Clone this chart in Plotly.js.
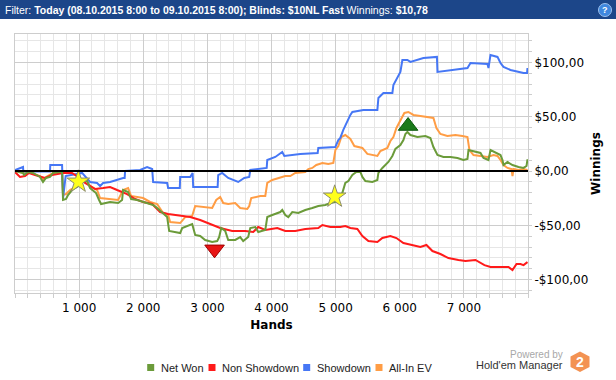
<!DOCTYPE html>
<html>
<head>
<meta charset="utf-8">
<script src="https://cdn.plot.ly/plotly-3.0.1.min.js"></script>
<style>
  html, body { margin: 0; padding: 0; background: #fff; }
  #chart { width: 616px; height: 380px; }
</style>
</head>
<body>
<div id="chart"></div>
<script>
// ---------------- DATA ----------------
const seriesNames = ['Net Won', 'Non Showdown', 'Showdown', 'All-In EV'];
const seriesColors = ['#6b9b3a', '#ff1a1a', '#4677f5', '#ff9d45'];

const netWonHands = [0,125,140,203,281,390,437,484,546,593,702,734,749,796,827,890,968,1015,1061,1124,1171,1264,1311,1342,1483,1608,1670,1686,1764,1811,1904,1998,2076,2154,2217,2310,2373,2404,2498,2576,2607,2685,2763,2810,2888,2966,3075,3153,3184,3216,3278,3325,3434,3512,3559,3637,3669,3747,3793,3903,3934,4012,4137,4168,4215,4262,4324,4418,4527,4636,4730,4839,4918,4996,5026,5104,5151,5198,5261,5323,5386,5417,5464,5573,5651,5667,5729,5823,5885,5932,6010,6057,6088,6119,6166,6275,6400,6478,6525,6588,6681,6790,6900,6993,7056,7072,7181,7259,7306,7384,7415,7493,7571,7602,7618,7680,7758,7852,7930,7977,7992];
const netWonValues = [0,-1.8,-3.7,-0.9,-1.8,-5.5,-10.1,-6.4,-5.5,-1.8,-0.9,-0.9,-26.7,-25.8,-22.1,-17.5,-14.7,-12.9,-9.2,-9.2,-15.7,-20.3,-26.7,-30.4,-28.5,-29.5,-26.7,-17.5,-19.3,-25.8,-26.7,-28.5,-30.4,-31.3,-34.1,-39.6,-42.4,-55.2,-56.2,-57.1,-52.5,-50.6,-48.8,-58.9,-59.8,-63.5,-65.4,-64.5,-60.8,-52.5,-55.2,-63.5,-63.5,-60.8,-64.5,-60.8,-52.5,-51.6,-56.2,-54.3,-42.4,-40.5,-37.8,-35.9,-40.5,-42.4,-37.8,-38.7,-35.9,-34.1,-32.2,-31.3,-29.5,-28.5,-23.9,-20.3,-11,-9.2,-3.7,-0.9,-0.9,-5.5,-9.2,-10.1,-8.3,-1.8,2.8,8.3,13.8,20.3,23.9,28.5,34.1,35.9,33.1,31.3,32.2,30.4,22.1,14.7,12.9,12.9,12,10.1,11,19.3,17.5,16.6,12,10.1,19.3,16.6,14.7,10.1,5.5,8.3,5.5,3.7,2.8,4.6,10.78];

const nonShowdownHands = [0,78,156,218,312,468,578,749,890,983,1093,1249,1374,1483,1592,1748,1873,1998,2139,2263,2388,2576,2732,2888,3044,3200,3387,3590,3715,3793,3903,4012,4090,4215,4371,4527,4730,4793,4918,5073,5151,5230,5339,5417,5511,5651,5729,5854,5948,6057,6166,6322,6416,6510,6634,6759,6915,7025,7181,7321,7415,7571,7696,7758,7821,7883,7930,7992];
const nonShowdownValues = [-0.9,-5.5,-4.6,-1.8,-3.7,-6.4,-3.7,-1.8,-1.8,-5.5,-11,-16.6,-15.7,-14.7,-17.5,-21.2,-25.8,-28.5,-30.4,-37.8,-39.6,-41.4,-42.4,-45.1,-48.8,-52.5,-55.2,-55.2,-56.2,-51.6,-54.3,-53.4,-52.5,-55.2,-55.2,-53.4,-52.5,-49.7,-51.6,-51.6,-50.6,-52.5,-53.4,-59.8,-64.5,-65.4,-61.7,-59.8,-61.7,-66.3,-68.1,-70,-68.1,-73.7,-76.4,-80.1,-81.9,-82.9,-81.9,-86.6,-88.4,-88.4,-88.4,-91.2,-85.6,-85.6,-86.6,-83.8];

const showdownHands = [0,125,130,546,550,734,750,790,1046,1124,1171,1280,1327,1374,1483,1686,1710,1717,1951,2060,2139,2154,2373,2388,2570,2576,2732,2770,2779,3160,3169,3231,3325,3481,3575,3653,3669,3925,3934,4059,4168,4200,4449,4720,4730,4996,5042,5073,5120,5230,5261,5433,5651,5667,5745,5885,5901,6010,6041,6119,6166,6369,6580,6588,6790,7056,7103,7368,7384,7415,7524,7571,7618,7727,7930,7985,7992];
const showdownValues = [0.9,3.7,-0.5,-0.5,5.5,5.5,-24.9,-4.6,-1.8,-6.4,-10.1,-11,-13.8,-11,-10.1,-6.4,-6.4,0,0.9,3.7,1.8,-10.1,-11,-15.7,-15.7,-5.5,-5.5,-1.8,-14.7,-14.7,-3.7,-1.8,-6.4,-10.1,-6.4,-5.5,0.9,2.8,10.1,12.9,17.5,13.8,15.7,16.6,21.2,22.1,28.5,30.4,37.8,51.6,54.3,56.2,56.2,67.2,71.8,71.8,79.2,91.2,102.2,102.2,100.4,104,105,91.2,93,94.8,99.4,98.5,94.8,106.8,105,99.4,95.8,93,90.2,90.2,94.8];

const allInEvHands = [0,125,203,312,390,437,484,593,734,749,796,859,968,1046,1124,1171,1280,1327,1483,1608,1686,1764,1811,1998,2107,2217,2310,2388,2420,2576,2654,2763,2810,2966,3075,3138,3200,3247,3325,3434,3512,3622,3653,3684,3825,3903,3934,4012,4106,4215,4293,4371,4527,4574,4636,4699,4793,4886,4964,4996,5042,5089,5151,5230,5292,5417,5495,5651,5698,5807,5854,5901,5948,6010,6072,6135,6213,6322,6447,6525,6572,6634,6743,6868,6977,7056,7087,7150,7259,7368,7462,7524,7571,7618,7680,7743,7758,7774,7852,7930,7992];
const allInEvValues = [0,-1.8,-0.9,-2.8,-4.6,-8.3,-5.5,-1.8,-0.9,-22.1,-21.2,-17.5,-13.8,-9.2,-9.2,-13.8,-17.5,-24.9,-25.8,-26.7,-17.5,-15.7,-23,-24.9,-28.5,-30.4,-38.7,-40.5,-47,-47.9,-42.4,-41.4,-32.2,-33.1,-34.1,-26.7,-23.9,-29.5,-30.4,-29.5,-34.1,-35,-32.2,-24.9,-23,-23,-11,-8.3,-6.4,-4.6,-4.6,-1.8,-0.9,1.8,2.8,5.5,7.4,6.4,7.4,19.3,23,31.3,33.1,29.5,23,21.2,15.7,13.8,18.4,21.2,27.6,31.3,39.6,47,53.4,54.3,51.6,50.6,49.7,48.8,39.6,34.1,32.2,33.1,32.2,31.3,19.3,14.7,13.8,12.9,14.7,13.8,10.1,5.5,2.8,1.8,-4.6,1.8,0.9,1.8,0.9];

// event markers
const starHands = [988, 4985];
const starValues = [-9.9, -23.7];
const maxHands = [6130];
const maxValues = [41.4];
const minHands = [3112];
const minValues = [-72.1];

// ticks
const xTickVals = [1000, 2000, 3000, 4000, 5000, 6000, 7000];
const xTickLabels = ['1 000', '2 000', '3 000', '4 000', '5 000', '6 000', '7 000'];
const yTickVals = [-100, -50, 0, 50, 100];
const yTickLabels = ['-$100,00', '-$50,00', '$0,00', '$50,00', '$100,00'];

const headerText = 'Filter: <b>Today (08.10.2015 8:00 to 09.10.2015 8:00); Blinds: $10NL Fast</b> Winnings: <b>$10,78</b>';

// ---------------- LAYOUT HELPERS ----------------
const W = 616, H = 380;
const M = { l: 15, r: 88, t: 34, b: 87 };
const PW = W - M.l - M.r, PH = H - M.t - M.b;
const px = x => (x - M.l) / PW;
const py = y => (H - M.b - y) / PH;

const AX = 'DejaVu Sans, Verdana, sans-serif';
const LS = 'Liberation Sans, Arial, sans-serif';

const lineSeries = [
  { h: allInEvHands, v: allInEvValues, i: 3 },
  { h: showdownHands, v: showdownValues, i: 2 },
  { h: nonShowdownHands, v: nonShowdownValues, i: 1 },
  { h: netWonHands, v: netWonValues, i: 0 }
];

const traces = lineSeries.map(s => ({
  type: 'scatter', mode: 'lines', x: s.h, y: s.v, name: seriesNames[s.i],
  line: { color: seriesColors[s.i], width: 2 }, showlegend: false, hoverinfo: 'skip'
}));

traces.push({
  type: 'scatter', mode: 'markers', x: starHands, y: starValues, showlegend: false,
  marker: { symbol: 'star', size: 17, color: '#ffff1a', line: { color: '#8c8c70', width: 1 } }
});
traces.push({
  type: 'scatter', mode: 'markers', x: maxHands, y: maxValues, showlegend: false,
  marker: { symbol: 'triangle-up', size: 17, color: '#1a7a1a', line: { color: '#0d5a0d', width: 1 } }
});
traces.push({
  type: 'scatter', mode: 'markers', x: minHands, y: minValues, showlegend: false,
  marker: { symbol: 'triangle-down', size: 17, color: '#e81515', line: { color: '#a00000', width: 1 } }
});

const shapes = [
  // header bar
  { type: 'rect', xref: 'paper', yref: 'paper', x0: px(0), x1: px(616), y0: py(19), y1: py(0),
    fillcolor: '#1c4689', line: { width: 0 }, layer: 'above' },
  // help icon
  { type: 'circle', xref: 'paper', yref: 'paper', x0: px(598.5), x1: px(611.5), y0: py(16.5), y1: py(3.5),
    fillcolor: '#3f87de', line: { color: '#9cc0ee', width: 1 }, layer: 'above' },
  // zero line
  { type: 'line', xref: 'paper', yref: 'y', x0: 0, x1: 1, y0: 0, y1: 0,
    line: { color: '#000', width: 2 }, layer: 'above' },
  // logo hexagon
  { type: 'path', xref: 'paper', yref: 'paper', layer: 'above',
    path: 'M ' + px(580) + ',' + py(351.5) + ' L ' + px(589.5) + ',' + py(356.5) + ' L ' + px(589.5) + ',' + py(367) +
          ' L ' + px(580) + ',' + py(372) + ' L ' + px(570.5) + ',' + py(367) + ' L ' + px(570.5) + ',' + py(356.5) + ' Z',
    fillcolor: '#f39252', line: { width: 0 } }
];

const legendSquareX = [150.7, 212, 306.7, 379];
const legendTextX = [158.5, 219.5, 314.5, 386.5];
const legendY = 367.5;
const annotations = [];
seriesNames.forEach((n, i) => {
  shapes.push({ type: 'rect', xref: 'paper', yref: 'paper',
    x0: px(legendSquareX[i] - 3.5), x1: px(legendSquareX[i] + 3.5), y0: py(legendY + 3.5), y1: py(legendY - 3.5),
    fillcolor: seriesColors[i], line: { width: 0 } });
  annotations.push({ xref: 'paper', yref: 'paper', x: px(legendTextX[i]), y: py(legendY), xanchor: 'left', yanchor: 'middle',
    text: n, showarrow: false, font: { family: LS, size: 11, color: '#222' } });
});

annotations.push(
  { xref: 'paper', yref: 'paper', x: px(3), y: py(10), xanchor: 'left', yanchor: 'middle', showarrow: false,
    text: headerText, font: { family: LS, size: 10.5, color: '#fff' } },
  { xref: 'paper', yref: 'paper', x: px(605), y: py(10), xanchor: 'center', yanchor: 'middle', showarrow: false,
    text: '<b>?</b>', font: { family: LS, size: 9, color: '#fff' } },
  { xref: 'paper', yref: 'paper', x: px(565), y: py(354), xanchor: 'right', yanchor: 'middle', showarrow: false,
    text: 'Powered by', font: { family: LS, size: 10, color: '#a8a8a8' } },
  { xref: 'paper', yref: 'paper', x: px(565), y: py(365), xanchor: 'right', yanchor: 'middle', showarrow: false,
    text: "Hold'em Manager", font: { family: LS, size: 11, color: '#333' } },
  { xref: 'paper', yref: 'paper', x: px(580), y: py(362), xanchor: 'center', yanchor: 'middle', showarrow: false,
    text: '<b>2</b>', font: { family: LS, size: 14, color: '#fff' } }
);

const grid = '#cdcdcd', minorGrid = '#e6e6e6';
const layout = {
  width: W, height: H, margin: M,
  paper_bgcolor: '#fff', plot_bgcolor: '#fff',
  showlegend: false,
  xaxis: {
    range: [0, 8000], tickmode: 'array', tickvals: xTickVals, ticktext: xTickLabels,
    showgrid: true, gridcolor: grid, gridwidth: 1, zeroline: false,
    ticks: 'outside', ticklen: 4, tickcolor: grid,
    showline: true, linecolor: grid, linewidth: 1, mirror: true,
    minor: { tickmode: 'linear', tick0: 0, dtick: 200, showgrid: true, gridcolor: minorGrid, ticks: 'outside', ticklen: 4, tickcolor: grid },
    tickfont: { family: AX, size: 12, color: '#000' },
    title: { text: '<b>Hands</b>', font: { family: AX, size: 12, color: '#000' }, standoff: 6 }
  },
  yaxis: {
    side: 'right', range: [-112.3, 126.1], tickmode: 'array', tickvals: yTickVals, ticktext: yTickLabels,
    showgrid: true, gridcolor: grid, gridwidth: 1, zeroline: false,
    ticks: 'outside', ticklen: 3, tickcolor: grid,
    showline: true, linecolor: grid, linewidth: 1, mirror: true,
    minor: { tickmode: 'linear', tick0: 0, dtick: 10, showgrid: true, gridcolor: minorGrid, ticks: 'outside', ticklen: 3, tickcolor: grid },
    tickfont: { family: AX, size: 12, color: '#000' },
    title: { text: '<b>Winnings</b>', font: { family: AX, size: 12, color: '#000' }, standoff: 4 }
  },
  shapes: shapes,
  annotations: annotations
};

Plotly.newPlot('chart', traces, layout, { displayModeBar: false, staticPlot: true });
</script>
</body>
</html>
